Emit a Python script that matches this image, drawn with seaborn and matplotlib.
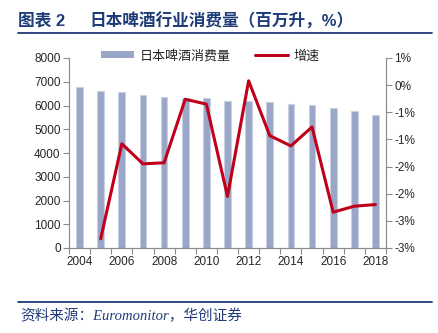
import numpy as np
import pandas as pd
import matplotlib
matplotlib.use("Agg")
import matplotlib.pyplot as plt
import matplotlib.lines as mlines
import matplotlib.patches as mpatches
from matplotlib.ticker import FuncFormatter, FixedLocator
import seaborn as sns

years = list(range(2004, 2019))
consumption = [6800, 6610, 6550, 6455, 6360, 6330, 6315, 6200, 6200, 6145, 6075, 6035, 5895, 5750, 5610]
growth = [np.nan, -2.83, -1.08, -1.45, -1.43, -0.26, -0.35, -2.05, 0.08, -0.93, -1.12, -0.77, -2.34, -2.23, -2.20]
bar_label = "日本啤酒消费量"
line_label = "增速"
title_num = "图表 2"
title_text = "日本啤酒行业消费量（百万升，%）"
source_text = "资料来源：Euromonitor，华创证券"

sns.set_theme(style="white")
plt.rcParams['font.family'] = ['Liberation Sans', 'Noto Sans CJK SC', 'DejaVu Sans']

df = pd.DataFrame({"year": years, "consumption": consumption, "growth": growth})

fig = plt.figure(figsize=(4.38, 3.33), dpi=100)
ax = fig.add_axes([69/438, 1-248/333, (386-69)/438, (248-58)/333])

bar_color = "#9AA6C8"
line_color = "#C0001A"
spine_color = "#8C8C8C"
navy = "#1F3C78"

sns.barplot(data=df, x="year", y="consumption", native_scale=True, width=0.32,
            color=bar_color, edgecolor="#C9D0E3", linewidth=0.8, saturation=1, ax=ax)
ax.set_xlim(2003.5, 2018.5)
ax.set_ylim(0, 8000)
ax.set_yticks(np.arange(0, 8001, 1000))
ax.set_xlabel("")
ax.set_ylabel("")

ax2 = ax.twinx()
sns.lineplot(data=df, x="year", y="growth", color=line_color, linewidth=2.2, ax=ax2)
ax2.set_ylim(-3, 0.5)
ax2.set_yticks(np.arange(-3, 0.51, 0.5))
ax2.set_ylabel("")

def pct_fmt(v, pos):
    r = int(np.sign(v) * np.floor(abs(v) + 0.5 + 1e-9))
    return f"{r}%"
ax2.yaxis.set_major_formatter(FuncFormatter(pct_fmt))

# x ticks: marks at category boundaries, labels at even years
ax.xaxis.set_major_locator(FixedLocator(np.arange(2003.5, 2019, 1)))
ax.xaxis.set_major_formatter(FuncFormatter(lambda v, p: ""))
ax.xaxis.set_minor_locator(FixedLocator([y for y in years if y % 2 == 0]))
ax.xaxis.set_minor_formatter(FuncFormatter(lambda v, p: f"{int(round(v))}"))
ax.tick_params(axis="x", which="major", direction="out", length=4, width=0.8, color=spine_color, bottom=True)
ax.tick_params(axis="x", which="minor", length=0, labelsize=8.5, pad=6, bottom=True)
ax.tick_params(axis="y", direction="out", length=4, width=0.8, color=spine_color, labelsize=8.5, pad=2, left=True)
ax2.tick_params(axis="y", direction="out", length=4, width=0.8, color=spine_color, labelsize=8.5, pad=2, right=True)

for a in (ax, ax2):
    a.spines["top"].set_visible(False)
    for s in ("left", "right", "bottom"):
        a.spines[s].set_color(spine_color)
        a.spines[s].set_linewidth(0.8)
    a.grid(False)

ax2.set_zorder(ax.get_zorder() + 1)
ax2.patch.set_visible(False)

h1 = mpatches.Patch(facecolor=bar_color, edgecolor="none")
h2 = mlines.Line2D([], [], color=line_color, linewidth=2.2)
leg = fig.legend([h1, h2], [bar_label, line_label], ncol=2, frameon=False,
                 loc="center left", bbox_to_anchor=(101/438, 1-56/333), fontsize=9.4,
                 handlelength=2.5, handleheight=0.5, columnspacing=1.9, handletextpad=0.45,
                 borderpad=0, borderaxespad=0)

fig.text(18/438, 1-21/333, title_num, fontsize=12, fontweight="bold", color=navy, va="center", ha="left")
fig.text(89/438, 1-21/333, title_text, fontsize=12, fontweight="bold", color=navy, va="center", ha="left")
fig.add_artist(mlines.Line2D([18/438, 432/438], [1-33/333, 1-33/333], color=navy, linewidth=1.3))
fig.add_artist(mlines.Line2D([18/438, 432/438], [1-302/333, 1-302/333], color=navy, linewidth=1.3))
fig.text(20/438, 1-316/333, source_text, fontsize=10.5, style="italic", color=navy, va="center", ha="left",
         family=['Liberation Serif', 'Noto Sans CJK SC', 'DejaVu Sans'])

fig.savefig("out.png", dpi=100)
